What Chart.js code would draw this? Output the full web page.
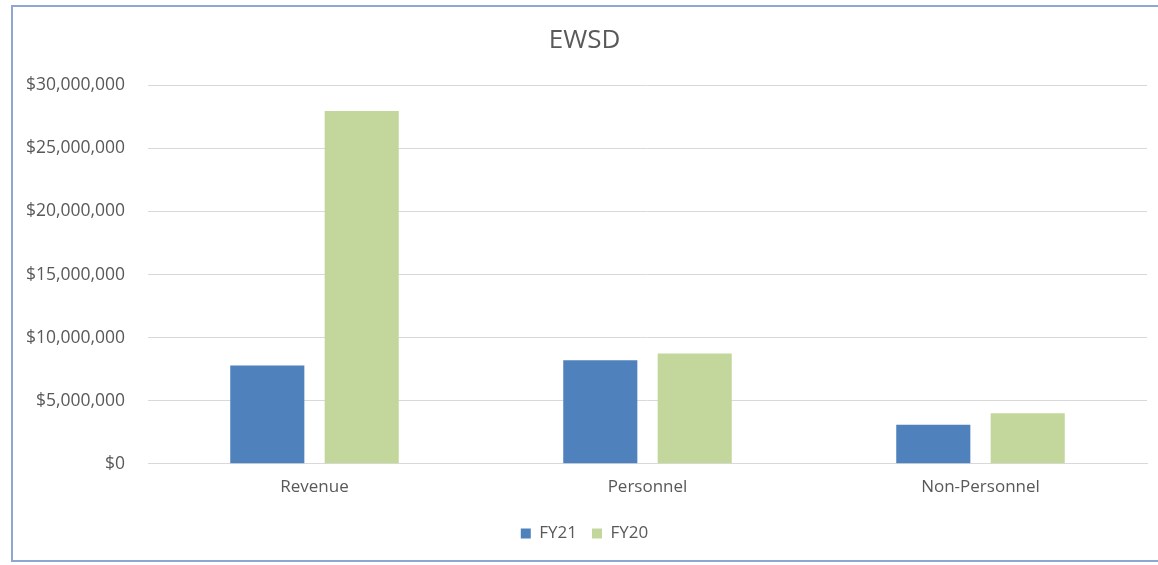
<!DOCTYPE html>
<html>
<head>
<meta charset="utf-8">
<script src="https://cdn.jsdelivr.net/npm/chart.js@4"></script>
<style>
  html, body { margin: 0; padding: 0; background: #ffffff; }
  #wrap { position: relative; width: 1158px; height: 565px; overflow: hidden; }
  #frame { position: absolute; left: 11px; top: 5px; width: 1160px; height: 557px;
           border: 2px solid #8FA6D2; box-sizing: border-box; pointer-events: none; }
  canvas { position: absolute; left: 0; top: 0; }
</style>
</head>
<body>
<div id="wrap">
  <canvas id="c" width="1158" height="565"></canvas>
  <div id="frame"></div>
</div>
<script>
const categories = ["Revenue", "Personnel", "Non-Personnel"];
const fy21 = [7800000, 8200000, 3100000];
const fy20 = [27950000, 8750000, 4000000];
const seriesNames = ["FY21", "FY20"];
const yTicks = [0, 5000000, 10000000, 15000000, 20000000, 25000000, 30000000];

const txt = "#595959";
const fam = "'Open Sans', 'Noto Sans', sans-serif";

new Chart(document.getElementById("c"), {
  type: "bar",
  data: {
    labels: categories,
    datasets: [
      { label: seriesNames[0], data: fy21, backgroundColor: "#4F81BD", borderWidth: 0,
        categoryPercentage: 0.567, barPercentage: 0.785 },
      { label: seriesNames[1], data: fy20, backgroundColor: "#C3D69B", borderWidth: 0,
        categoryPercentage: 0.567, barPercentage: 0.785 }
    ]
  },
  options: {
    responsive: false,
    animation: false,
    events: [],
    layout: { padding: { top: 6, left: 22, right: 11, bottom: 13 } },
    plugins: {
      title: {
        display: true, text: "EWSD", color: txt,
        font: { family: fam, size: 26, weight: "normal" },
        padding: { top: 19, bottom: 29 }
      },
      legend: {
        display: true, position: "bottom",
        labels: {
          color: txt, font: { family: fam, size: 17 },
          boxWidth: 10, boxHeight: 10, padding: 15
        }
      },
      tooltip: { enabled: false }
    },
    scales: {
      x: {
        grid: { display: false, drawTicks: false },
        border: { display: true, color: "#D9D9D9", width: 1 },
        ticks: { color: txt, font: { family: fam, size: 17, lineHeight: 0.95 }, padding: 15 }
      },
      y: {
        min: 0, max: 30000000,
        afterBuildTicks: (axis) => { axis.ticks = yTicks.map(v => ({ value: v })); },
        afterFit: (axis) => { axis.width = 126; },
        grid: { color: "#D9D9D9", lineWidth: 1, drawTicks: false },
        border: { display: false },
        ticks: {
          color: txt, font: { family: fam, size: 17.5 }, padding: 23,
          callback: (v) => "$" + Number(v).toLocaleString("en-US")
        }
      }
    }
  }
});
</script>
</body>
</html>
